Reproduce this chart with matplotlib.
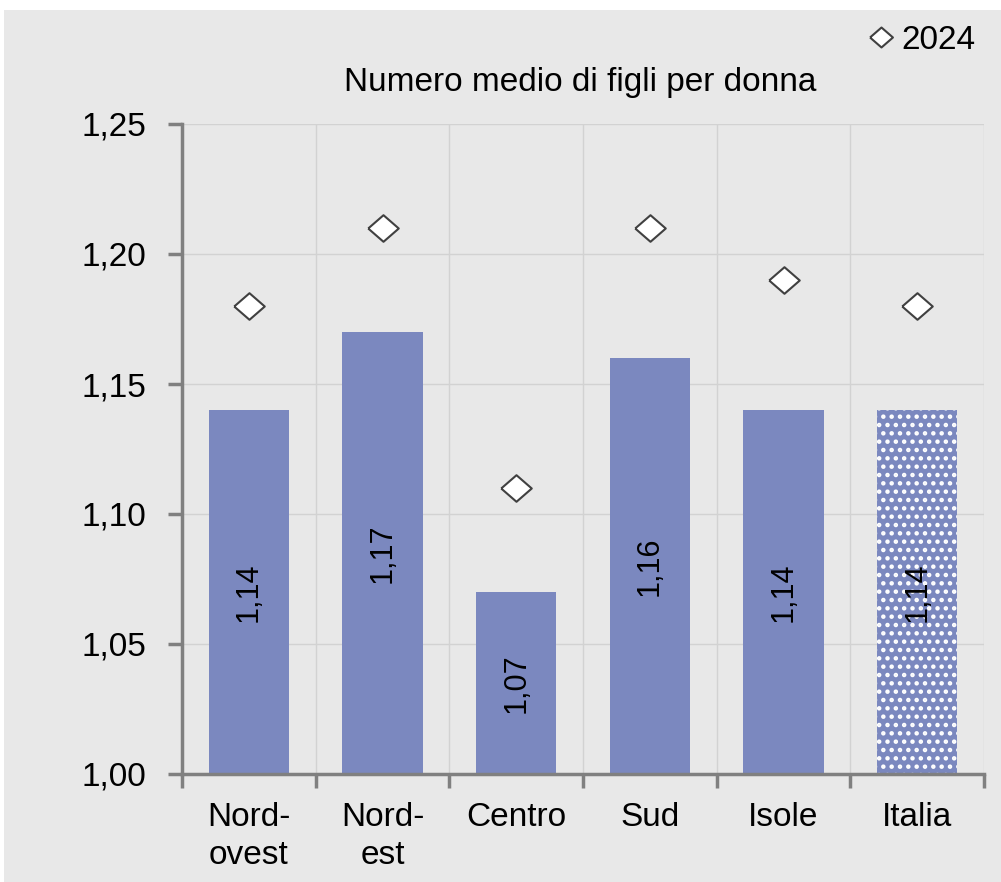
import numpy as np
import matplotlib.pyplot as plt
from matplotlib.patches import Rectangle

plt.rcParams['font.family'] = ['Liberation Sans', 'DejaVu Sans']
plt.rcParams['hatch.linewidth'] = 2.0

categorie = ["Nord-\novest", "Nord-\nest", "Centro", "Sud", "Isole", "Italia"]
valori_barre = [1.14, 1.17, 1.07, 1.16, 1.14, 1.14]
valori_2024 = [1.18, 1.21, 1.11, 1.21, 1.19, 1.18]
yticks = [1.00, 1.05, 1.10, 1.15, 1.20, 1.25]

bg = "#e8e8e8"
bar_col = "#7b88bf"

fig = plt.figure(figsize=(10.01, 8.82), dpi=100, facecolor="white")
# gray panel behind everything (white strip on top and left)
fig.patches.append(Rectangle((4 / 1001, 0), 1, 1 - 10 / 882, transform=fig.transFigure,
                             facecolor=bg, edgecolor="none", zorder=-10))

ax = fig.add_axes([182 / 1001, 1 - 774 / 882, (984 - 182) / 1001, (774 - 124) / 882])
ax.set_facecolor(bg)

x = np.arange(len(categorie))
bars = ax.bar(x, np.array(valori_barre) - 1.0, bottom=1.0, width=0.6,
              color=bar_col, zorder=2)
# Italia: dotted bar
bars[-1].set_hatch("..")
bars[-1].set_edgecolor("white")
bars[-1].set_linewidth(0)

for xi, v in zip(x, valori_barre):
    ax.text(xi, (1.0 + v) / 2, f"{v:.2f}".replace(".", ","), rotation=90,
            ha="center", va="center", fontsize=22, color="black", zorder=3)

diamond = [(-1, 0), (0, 0.87), (1, 0), (0, -0.87), (-1, 0)]
ax.plot(x, valori_2024, linestyle="none", marker=diamond, markersize=22,
        markerfacecolor="white", markeredgecolor="#404040", markeredgewidth=1.5,
        zorder=4, label="2024")

ax.set_xlim(-0.5, len(categorie) - 0.5)
ax.set_ylim(1.0, 1.25)
ax.set_yticks(yticks)
ax.set_yticklabels([f"{t:.2f}".replace(".", ",") for t in yticks], fontsize=24)
ax.set_xticks(x)
ax.set_xticklabels(categorie, fontsize=24, linespacing=1.3)
ax.set_xticks(np.arange(len(categorie) + 1) - 0.5, minor=True)
ax.tick_params(axis="x", which="major", length=0, pad=20)
ax.tick_params(axis="x", which="minor", length=10, width=2.5, color="#808080", direction="out")
ax.tick_params(axis="y", length=10, width=2.5, color="#808080", pad=16)

ax.grid(axis="y", color="#d2d2d2", linewidth=1, zorder=0)
ax.grid(axis="x", which="minor", color="#d2d2d2", linewidth=1, zorder=0)
ax.set_axisbelow(True)

for s in ["top", "right"]:
    ax.spines[s].set_visible(False)
for s in ["left", "bottom"]:
    ax.spines[s].set_color("#808080")
    ax.spines[s].set_linewidth(2.5)

fig.text(580 / 1001, 1 - 82 / 882, "Numero medio di figli per donna", ha="center",
         va="center", fontsize=24)
ax.legend(loc="upper right", bbox_to_anchor=(992 / 1001, 1 - 8 / 882),
          bbox_transform=fig.transFigure, frameon=False, fontsize=24,
          handletextpad=0.15, handlelength=0.9, markerscale=0.75, borderpad=0)

fig.savefig("out.png", dpi=100, facecolor=fig.get_facecolor())
